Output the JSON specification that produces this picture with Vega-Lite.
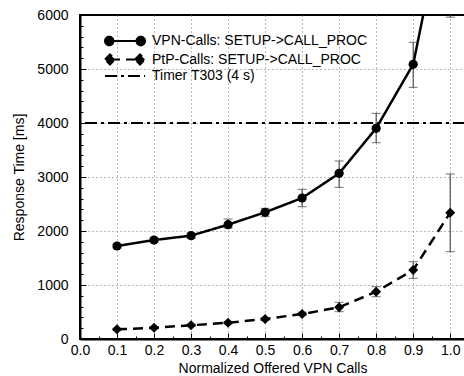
{
  "$schema": "https://vega.github.io/schema/vega-lite/v6.json",
  "width": 385,
  "height": 324,
  "autosize": {"type": "none"},
  "padding": {"left": 80, "top": 15, "right": 0, "bottom": 37},
  "background": "white",
  "config": {
    "font": "Liberation Sans",
    "view": {"stroke": "black", "strokeWidth": 2}
  },
  "data": {
    "values": [
      {"series": "VPN-Calls: SETUP->CALL_PROC", "x": 0.1, "y": 1722, "lo": 1685, "hi": 1760},
      {"series": "VPN-Calls: SETUP->CALL_PROC", "x": 0.2, "y": 1833, "lo": 1790, "hi": 1875},
      {"series": "VPN-Calls: SETUP->CALL_PROC", "x": 0.3, "y": 1914, "lo": 1865, "hi": 1965},
      {"series": "VPN-Calls: SETUP->CALL_PROC", "x": 0.4, "y": 2117, "lo": 2055, "hi": 2222},
      {"series": "VPN-Calls: SETUP->CALL_PROC", "x": 0.5, "y": 2346, "lo": 2265, "hi": 2420},
      {"series": "VPN-Calls: SETUP->CALL_PROC", "x": 0.6, "y": 2611, "lo": 2450, "hi": 2772},
      {"series": "VPN-Calls: SETUP->CALL_PROC", "x": 0.7, "y": 3068, "lo": 2809, "hi": 3296},
      {"series": "VPN-Calls: SETUP->CALL_PROC", "x": 0.8, "y": 3902, "lo": 3635, "hi": 4179},
      {"series": "VPN-Calls: SETUP->CALL_PROC", "x": 0.9, "y": 5087, "lo": 4661, "hi": 5494},
      {"series": "VPN-Calls: SETUP->CALL_PROC", "x": 1.0, "y": 8450, "lo": 5960, "hi": 10900},
      {"series": "PtP-Calls: SETUP->CALL_PROC", "x": 0.1, "y": 179, "lo": 160, "hi": 198},
      {"series": "PtP-Calls: SETUP->CALL_PROC", "x": 0.2, "y": 209, "lo": 190, "hi": 228},
      {"series": "PtP-Calls: SETUP->CALL_PROC", "x": 0.3, "y": 254, "lo": 232, "hi": 276},
      {"series": "PtP-Calls: SETUP->CALL_PROC", "x": 0.4, "y": 302, "lo": 278, "hi": 326},
      {"series": "PtP-Calls: SETUP->CALL_PROC", "x": 0.5, "y": 370, "lo": 342, "hi": 398},
      {"series": "PtP-Calls: SETUP->CALL_PROC", "x": 0.6, "y": 463, "lo": 430, "hi": 496},
      {"series": "PtP-Calls: SETUP->CALL_PROC", "x": 0.7, "y": 587, "lo": 506, "hi": 680},
      {"series": "PtP-Calls: SETUP->CALL_PROC", "x": 0.8, "y": 876, "lo": 783, "hi": 969},
      {"series": "PtP-Calls: SETUP->CALL_PROC", "x": 0.9, "y": 1278, "lo": 1124, "hi": 1431},
      {"series": "PtP-Calls: SETUP->CALL_PROC", "x": 1.0, "y": 2339, "lo": 1617, "hi": 3056}
    ]
  },
  "encoding": {
    "x": {
      "field": "x", "type": "quantitative",
      "scale": {"domain": [0, 1.04], "nice": false, "zero": false},
      "axis": {
        "title": "Normalized Offered VPN Calls",
        "values": [0, 0.05, 0.1, 0.15, 0.2, 0.25, 0.3, 0.35, 0.4, 0.45, 0.5, 0.55, 0.6, 0.65, 0.7, 0.75, 0.8, 0.85, 0.9, 0.95, 1.0],
        "labelExpr": "round(datum.value*100)%10===0 ? format(datum.value,'.1f') : ''",
        "labelFlush": false,
        "labelOverlap": false,
        "labelFontSize": 14,
        "labelColor": "black",
        "labelPadding": 10,
        "titleFontSize": 14,
        "titleFontWeight": "normal",
        "titleColor": "black",
        "titlePadding": 1,
        "domainColor": "black",
        "domainWidth": 2,
        "tickColor": "black",
        "tickSize": {"condition": {"test": "round(datum.value*100)%10===0", "value": -6}, "value": -3},
        "grid": true,
        "gridDash": [1, 3],
        "gridColor": "#777",
        "gridOpacity": {"condition": {"test": "round(datum.value*100)%10===0 && datum.value>0", "value": 1}, "value": 0}
      }
    },
    "y": {
      "field": "y", "type": "quantitative",
      "scale": {"domain": [0, 6000], "nice": false},
      "axis": {
        "title": "Response Time [ms]",
        "values": [0, 200, 400, 600, 800, 1000, 1200, 1400, 1600, 1800, 2000, 2200, 2400, 2600, 2800, 3000, 3200, 3400, 3600, 3800, 4000, 4200, 4400, 4600, 4800, 5000, 5200, 5400, 5600, 5800, 6000],
        "labelExpr": "datum.value%1000===0 ? format(datum.value,'d') : ''",
        "labelFlush": false,
        "labelOverlap": false,
        "labelFontSize": 14,
        "labelColor": "black",
        "labelPadding": 18,
        "titleFontSize": 14,
        "titleFontWeight": "normal",
        "titleColor": "black",
        "titlePadding": 10,
        "domainColor": "black",
        "domainWidth": 2,
        "tickColor": "black",
        "tickSize": {"condition": {"test": "datum.value%1000===0", "value": -6}, "value": -3},
        "grid": true,
        "gridDash": [1, 3],
        "gridColor": "#777",
        "gridOpacity": {"condition": {"test": "datum.value%1000===0 && datum.value>0 && datum.value<6000", "value": 1}, "value": 0}
      }
    }
  },
  "layer": [
    {
      "mark": {"type": "rule", "color": "black", "strokeWidth": 2, "clip": true},
      "encoding": {
        "x": null,
        "y": {"datum": 4000, "type": "quantitative"},
        "strokeDash": {"datum": "Timer T303 (4 s)"}
      }
    },
    {
      "mark": {"type": "line", "color": "black", "strokeWidth": 2.5, "clip": true},
      "encoding": {
        "strokeDash": {
          "field": "series", "type": "nominal",
          "scale": {
            "domain": ["VPN-Calls: SETUP->CALL_PROC", "PtP-Calls: SETUP->CALL_PROC", "Timer T303 (4 s)"],
            "range": [[1, 0], [10, 6], [12, 4, 3, 4]]
          },
          "legend": {
            "title": null,
            "orient": "none",
            "legendX": 38,
            "legendY": 19,
            "padding": 0,
            "symbolSize": 100,
            "symbolStrokeWidth": 2,
            "symbolStrokeColor": "black",
            "labelOffset": 20,
            "labelFontSize": 14,
            "labelColor": "black",
            "labelFont": "Liberation Sans",
            "rowPadding": 0.5,
            "labelLimit": 400,
            "encode": {
              "symbols": {
                "update": {
                  "shape": {"signal": "datum.value === 'VPN-Calls: SETUP->CALL_PROC' ? 'M-3.1,0L3.1,0M-4,0a0.85,0.85 0 1,0 1.7,0a0.85,0.85 0 1,0 -1.7,0M2.3,0a0.85,0.85 0 1,0 1.7,0a0.85,0.85 0 1,0 -1.7,0' : datum.value === 'PtP-Calls: SETUP->CALL_PROC' ? 'M-3,0L3,0M-4,0L-3,-1L-2,0L-3,1ZM2,0L3,-1L4,0L3,1Z' : 'M-4,0L4,0'"},
                  "size": {"value": 100},
                  "fill": {"value": "black"},
                  "stroke": {"value": "black"}
                }
              }
            }
          }
        }
      }
    },
    {
      "mark": {"type": "rule", "color": "#333", "strokeWidth": 1, "clip": true},
      "encoding": {
        "y": {"field": "lo", "type": "quantitative"},
        "y2": {"field": "hi"}
      }
    },
    {
      "mark": {"type": "tick", "color": "#333", "thickness": 1, "size": 9, "orient": "horizontal", "clip": true},
      "encoding": {
        "y": {"field": "lo", "type": "quantitative"}
      }
    },
    {
      "mark": {"type": "tick", "color": "#333", "thickness": 1, "size": 9, "orient": "horizontal", "clip": true},
      "encoding": {
        "y": {"field": "hi", "type": "quantitative"}
      }
    },
    {
      "transform": [{"filter": "datum.series === 'VPN-Calls: SETUP->CALL_PROC'"}],
      "mark": {"type": "point", "shape": "circle", "filled": true, "color": "black", "opacity": 1, "size": 85, "clip": true},
      "encoding": {}
    },
    {
      "transform": [{"filter": "datum.series === 'PtP-Calls: SETUP->CALL_PROC'"}],
      "mark": {"type": "point", "shape": "diamond", "filled": true, "color": "black", "opacity": 1, "size": 100, "clip": true},
      "encoding": {}
    }
  ]
}
